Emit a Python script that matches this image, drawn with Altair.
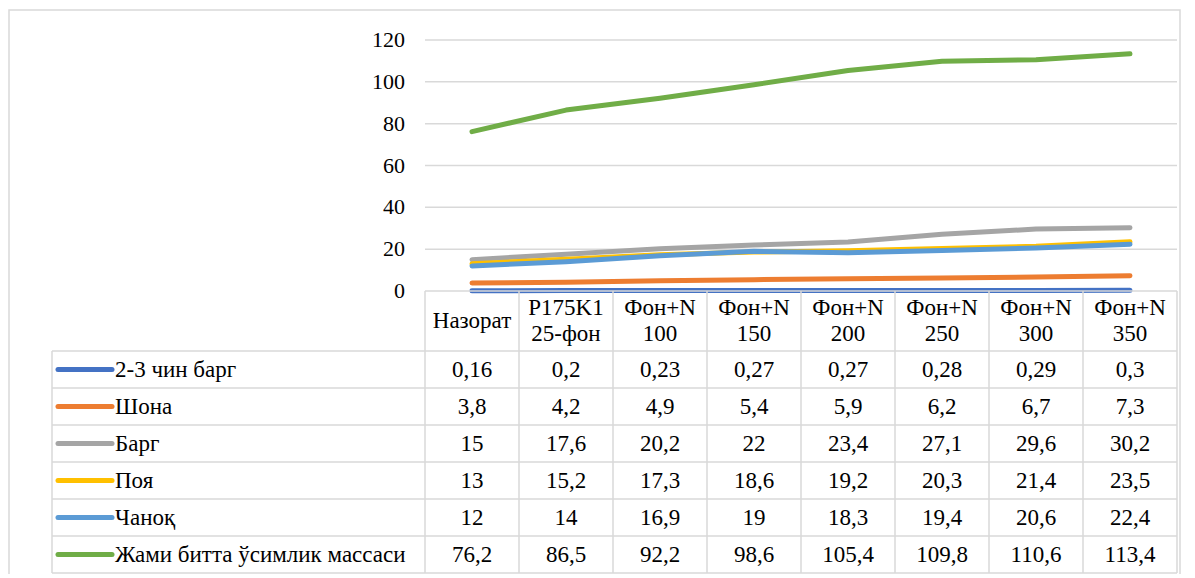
import altair as alt
import pandas as pd

# ---------------- data ----------------
categories = [["Назорат"], ["P175K1", "25-фон"], ["Фон+N", "100"], ["Фон+N", "150"],
              ["Фон+N", "200"], ["Фон+N", "250"], ["Фон+N", "300"], ["Фон+N", "350"]]
series_names = ["2-3 чин барг", "Шона", "Барг", "Поя", "Чаноқ",
                "Жами битта ўсимлик массаси"]
v_chin_barg = [0.16, 0.2, 0.23, 0.27, 0.27, 0.28, 0.29, 0.3]
v_shona = [3.8, 4.2, 4.9, 5.4, 5.9, 6.2, 6.7, 7.3]
v_barg = [15, 17.6, 20.2, 22, 23.4, 27.1, 29.6, 30.2]
v_poya = [13, 15.2, 17.3, 18.6, 19.2, 20.3, 21.4, 23.5]
v_chanoq = [12, 14, 16.9, 19, 18.3, 19.4, 20.6, 22.4]
v_jami = [76.2, 86.5, 92.2, 98.6, 105.4, 109.8, 110.6, 113.4]
series_values = [v_chin_barg, v_shona, v_barg, v_poya, v_chanoq, v_jami]
colors = ["#4472C4", "#ED7D31", "#A5A5A5", "#FFC000", "#5B9BD5", "#70AD47"]
y_ticks = [0, 20, 40, 60, 80, 100, 120]

# ---------------- layout constants ----------------
FONT = "'Liberation Serif', 'Times New Roman', serif"
FS = 23
FS_AXIS = 22
COL_PX = 94.0
PLOT_W = 8 * COL_PX
PLOT_H = 251
LEG = 373.0 / COL_PX          # legend column width in column units
ROW_PX = 37.0
HEAD = 60.0 / ROW_PX          # header height in row units
NROW = len(series_names)
TOT = HEAD + NROW
GRID = "#D9D9D9"

xscale = alt.Scale(domain=[0, 8], nice=False, zero=False)
yscale = alt.Scale(domain=[0, 120], nice=False)
tscale = alt.Scale(domain=[0, TOT], range=[PLOT_H, PLOT_H + TOT * ROW_PX],
                   nice=False, zero=False)


def fmt(v):
    return f"{v:g}".replace(".", ",")


# ---------------- line chart ----------------
grid_df = pd.DataFrame({"v": y_ticks[1:], "x0": 0.0, "x1": 8.0})
grid_layer = alt.Chart(grid_df).mark_rule(color=GRID, strokeWidth=1.5).encode(
    x=alt.X("x0:Q", scale=xscale, axis=None), x2="x1:Q",
    y=alt.Y("v:Q", scale=yscale, axis=None))
ylab_df = pd.DataFrame({"v": y_ticks, "t": [str(t) for t in y_ticks],
                        "x0": 0.0})
ylab_layer = alt.Chart(ylab_df).mark_text(
    font=FONT, fontSize=FS_AXIS, color="#000000", align="right",
    baseline="middle", dx=-20).encode(
    x=alt.X("x0:Q", scale=xscale, axis=None),
    y=alt.Y("v:Q", scale=yscale, axis=None), text="t:N")

line_layers = [grid_layer, ylab_layer]
for k, (name, vals) in enumerate(zip(series_names, series_values)):
    df = pd.DataFrame({"x": [i + 0.5 for i in range(len(vals))], "y": vals,
                       "s": name})
    line_layers.append(
        alt.Chart(df).mark_line(strokeWidth=5, strokeCap="round",
                                strokeJoin="round", color=colors[k]).encode(
            x=alt.X("x:Q", scale=xscale, axis=None),
            y=alt.Y("y:Q", scale=yscale, axis=None),
        )
    )

# ---------------- table ----------------
rules = []
rules.append({"x": 0, "x2": 8, "y": 0, "y2": 0})
for r in range(NROW + 1):
    yy = HEAD + r
    rules.append({"x": -LEG, "x2": 8, "y": yy, "y2": yy})
rules.append({"x": -LEG, "x2": -LEG, "y": HEAD, "y2": TOT})
for c in range(9):
    rules.append({"x": c, "x2": c, "y": 0, "y2": TOT})
rules_df = pd.DataFrame(rules)

rule_layer = alt.Chart(rules_df).mark_rule(color=GRID, strokeWidth=1.5).encode(
    x=alt.X("x:Q", scale=xscale, axis=None), x2="x2:Q",
    y=alt.Y("y:Q", scale=tscale, axis=None), y2="y2:Q")

LINE_H = 26.0 / ROW_PX
head_rows = []
for i, lines_ in enumerate(categories):
    n = len(lines_)
    for j, t in enumerate(lines_):
        head_rows.append({"x": i + 0.5,
                          "y": HEAD / 2 + (j - (n - 1) / 2) * LINE_H,
                          "t": t})
head_df = pd.DataFrame(head_rows)
head_layer = alt.Chart(head_df).mark_text(
    font=FONT, fontSize=FS, color="#000000", align="center",
    baseline="middle").encode(
    x=alt.X("x:Q", scale=xscale, axis=None),
    y=alt.Y("y:Q", scale=tscale, axis=None), text="t:N")

cells = []
for r, vals in enumerate(series_values):
    for i, v in enumerate(vals):
        cells.append({"x": i + 0.5, "y": HEAD + r + 0.5, "t": fmt(v)})
cell_df = pd.DataFrame(cells)
cell_layer = alt.Chart(cell_df).mark_text(
    font=FONT, fontSize=FS, color="#000000", align="center",
    baseline="middle").encode(
    x=alt.X("x:Q", scale=xscale, axis=None),
    y=alt.Y("y:Q", scale=tscale, axis=None), text="t:N")

leg_df = pd.DataFrame({
    "x": [-LEG + 6 / COL_PX] * NROW,
    "x2": [-LEG + 60 / COL_PX] * NROW,
    "xt": [-LEG + 63 / COL_PX] * NROW,
    "y": [HEAD + r + 0.5 for r in range(NROW)],
    "s": series_names,
})
leg_line = alt.Chart(leg_df).mark_rule(strokeWidth=5, strokeCap="round").encode(
    x=alt.X("x:Q", scale=xscale, axis=None), x2="x2:Q",
    y=alt.Y("y:Q", scale=tscale, axis=None),
    color=alt.Color("s:N", scale=alt.Scale(domain=series_names, range=colors),
                    legend=None))
leg_text = alt.Chart(leg_df).mark_text(
    font=FONT, fontSize=FS, color="#000000", align="left",
    baseline="middle").encode(
    x=alt.X("xt:Q", scale=xscale, axis=None),
    y=alt.Y("y:Q", scale=tscale, axis=None), text="s:N")

frame_df = pd.DataFrame({"x": [-416 / COL_PX], "x2": [8 + 3 / COL_PX],
                         "y": [-(30 + PLOT_H) / ROW_PX], "y2": [TOT + 2]})
frame = alt.Chart(frame_df).mark_rect(fillOpacity=0, stroke=GRID,
                                      strokeWidth=1.5).encode(
    x=alt.X("x:Q", scale=xscale, axis=None), x2="x2:Q",
    y=alt.Y("y:Q", scale=tscale, axis=None), y2="y2:Q")

table = alt.layer(frame, rule_layer, head_layer, cell_layer, leg_line, leg_text)
lines = alt.layer(*line_layers)

chart = alt.layer(lines, table).resolve_scale(y="independent").properties(
    width=PLOT_W, height=PLOT_H,
    autosize=alt.AutoSizeParams(type="none"),
    padding={"left": 417, "top": 32, "right": 10, "bottom": 283},
    background="#FFFFFF",
).configure_view(stroke=None)

chart.save("out.html", embed_options={"renderer": "svg", "actions": False})
